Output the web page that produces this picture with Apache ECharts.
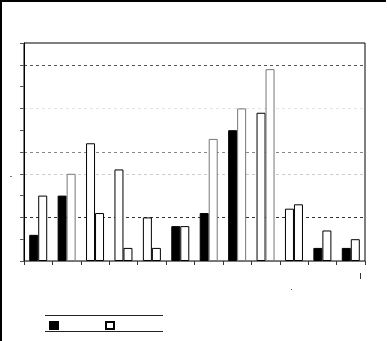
<!DOCTYPE html>
<html>
<head>
<meta charset="utf-8">
<script src="https://cdn.jsdelivr.net/npm/echarts@6/dist/echarts.min.js"></script>
<style>html,body{margin:0;padding:0;background:#fff;}#c{width:387px;height:341px;}</style>
</head>
<body>
<div id="c"></div>
<script>
const categories = ['1','2','3','4','5','6','7','8','9','10','11','12'];
const seriesA = [1.2, 3.0, 5.4, 4.2, 2.0, 1.6, 2.2, 6.0, 6.8, 2.4, 0.6, 0.6];
const seriesB = [3.0, 4.0, 2.2, 0.6, 0.6, 1.6, 5.6, 7.0, 8.8, 2.6, 1.4, 1.0];
const yTicks = [0,1,2,3,4,5,6,7,8,9,10];

const chart = echarts.init(document.getElementById('c'), null, {renderer: 'canvas'});
const hollowA = new Set([2,3,4,8,9]);
const grayB = new Set([1,6,7,8]);
const legendCommon = {top: 321, padding: 0, itemWidth: 8, itemHeight: 7, icon: 'rect',
  formatter: () => '', textStyle: {fontSize: 1, padding: 0}, itemGap: 0};
const option = {
  animation: false,
  backgroundColor: '#fff',
  grid: {left: 24, right: 22, top: 43, bottom: 80, show: true, borderColor: '#000', borderWidth: 1},
  xAxis: {
    type: 'category', data: categories, boundaryGap: true,
    axisLine: {show: true, lineStyle: {color: '#777', width: 1}},
    axisTick: {show: true, length: 4, lineStyle: {color: '#333'}},
    axisLabel: {show: false},
    splitLine: {show: false}
  },
  yAxis: {
    type: 'value', min: yTicks[0], max: yTicks[yTicks.length-1], interval: 1,
    axisLine: {show: true, lineStyle: {color: '#000'}},
    axisTick: {show: true, length: 4, lineStyle: {color: '#555'}},
    axisLabel: {show: false},
    splitLine: {show: true, showMinLine: true, showMaxLine: true,
      lineStyle: {type: [3,3], width: 1,
        color: ['rgba(0,0,0,0)','rgba(0,0,0,0)','#333','rgba(0,0,0,0)','#ccc','#888','rgba(0,0,0,0)','#e4e4e4','rgba(0,0,0,0)','#555','rgba(0,0,0,0)']}}
  },
  legend: [
    Object.assign({data: ['A'], left: 49}, legendCommon),
    Object.assign({data: ['B'], left: 105}, legendCommon)
  ],
  series: [
    {name: 'A', type: 'bar', barWidth: 9, barGap: '0%',
     itemStyle: {color: '#000', borderColor: '#000', borderWidth: 1},
     data: seriesA.map((v, i) => hollowA.has(i) ? {value: v, itemStyle: {color: '#fff', borderColor: '#000'}} : v)},
    {name: 'B', type: 'bar', barWidth: 9, barGap: '0%',
     itemStyle: {color: '#fff', borderColor: '#000', borderWidth: 1},
     data: seriesB.map((v, i) => grayB.has(i) ? {value: v, itemStyle: {color: '#fff', borderColor: '#777'}} : v)}
  ],
  graphic: [
    {type: 'line', shape: {x1: 0, y1: 1, x2: 386, y2: 1}, style: {stroke: '#000', lineWidth: 2}},
    {type: 'line', shape: {x1: 1, y1: 0, x2: 1, y2: 341}, style: {stroke: '#000', lineWidth: 2}},
    {type: 'line', shape: {x1: 45, y1: 315.5, x2: 163, y2: 315.5}, style: {stroke: '#222', lineWidth: 1}},
    {type: 'line', shape: {x1: 45, y1: 331.5, x2: 163, y2: 331.5}, style: {stroke: '#222', lineWidth: 1}},
    {type: 'line', shape: {x1: 360.5, y1: 273, x2: 360.5, y2: 279}, style: {stroke: '#333', lineWidth: 1}},
    {type: 'line', shape: {x1: 291, y1: 289.5, x2: 292, y2: 289.5}, style: {stroke: '#555', lineWidth: 1}},
    {type: 'line', shape: {x1: 10, y1: 176.5, x2: 12, y2: 176.5}, style: {stroke: '#777', lineWidth: 1}}
  ]
};
chart.setOption(option);
</script>
</body>
</html>
